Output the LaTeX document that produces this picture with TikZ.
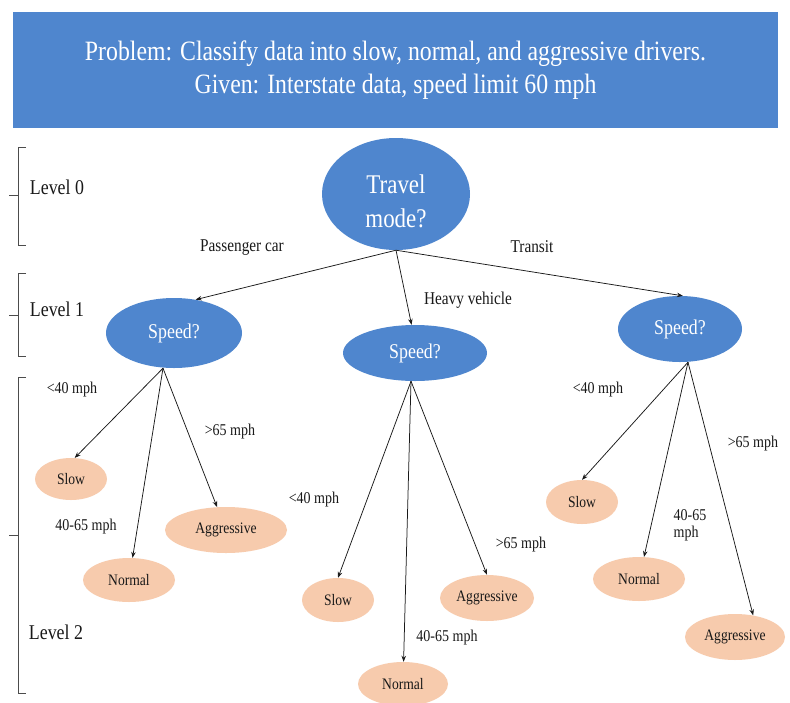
\documentclass[tikz,border=0pt]{standalone}
\usepackage{fontspec}
\setmainfont[FakeStretch=0.85]{Liberation Serif}
\usetikzlibrary{shapes.geometric,arrows.meta}
\definecolor{bannerblue}{RGB}{79,134,206}
\definecolor{nodeblue}{RGB}{79,134,206}
\definecolor{peach}{RGB}{247,203,173}
\begin{document}
\begin{tikzpicture}[x=1pt,y=-1pt,
  qnode/.style={ellipse, fill=nodeblue, text=white, inner sep=0pt},
  speedq/.style={qnode, font=\fontsize{21}{24}\selectfont},
  leaf/.style={ellipse, fill=peach, text=black!90, inner sep=0pt, font=\fontsize{16}{18}\selectfont},
  elabel/.style={font=\fontsize{16.5}{17}\selectfont, text=black!90, inner sep=0pt},
  tlabel/.style={font=\fontsize{18}{20}\selectfont, text=black!90, inner sep=0pt},
  lvl/.style={font=\fontsize{21}{24}\selectfont, text=black!90, inner sep=0pt},
  arr/.style={-{Stealth[length=6pt,width=4.5pt]}, line width=0.75pt, black!90},
  brk/.style={line width=0.6pt, black!70}]

\useasboundingbox (0,0) rectangle (790,702);
\fill[white] (0,0) rectangle (790,702);

% banner
\node[fill=bannerblue, minimum width=765pt, minimum height=116pt, inner sep=0pt,
      align=center, text=white, font=\fontsize{28}{33}\selectfont] (banner) at (395.5,70)
  {Problem: Classify data into slow, normal, and aggressive drivers.\\Given: Interstate data, speed limit 60 mph};

% level brackets
\draw[brk] (26,147) -- (18,147) -- (18,245) -- (26,245) (18,195) -- (9,195);
\draw[brk] (26,273) -- (18,273) -- (18,356) -- (26,356) (18,315) -- (9,315);
\draw[brk] (26,377) -- (18,377) -- (18,693) -- (26,693) (18,535) -- (9,535);
\node[lvl] (l0) at (57,187) {Level 0};
\node[lvl] (l1) at (57,309) {Level 1};
\node[lvl] (l2) at (56,632) {Level 2};

% decision nodes
\node[qnode, minimum width=148pt, minimum height=112pt] (top) at (396,194) {};
\node[align=center, text=white, inner sep=0pt, font=\fontsize{27}{34}\selectfont]
  (toptxt) at ([yshift=-7pt]top.center) {Travel\\mode?};
\node[speedq, minimum width=136pt, minimum height=70pt] (ls) at (174,333) {Speed?};
\node[speedq, minimum width=144pt, minimum height=56pt] (ms) at (415,353) {Speed?};
\node[speedq, minimum width=124pt, minimum height=66pt] (rs) at (680,329) {Speed?};

% leaves
\node[leaf, minimum width=72pt, minimum height=42pt] (lslow) at (71,479) {Slow};
\node[leaf, minimum width=92pt, minimum height=44pt] (lnorm) at (129,580) {Normal};
\node[leaf, minimum width=122pt, minimum height=46pt] (lagg) at (226,530) {Aggressive};
\node[leaf, minimum width=72pt, minimum height=44pt] (mslow) at (338,600) {Slow};
\node[leaf, minimum width=90pt, minimum height=44pt] (mnorm) at (403,684) {Normal};
\node[leaf, minimum width=94pt, minimum height=46pt] (magg) at (487,598) {Aggressive};
\node[leaf, minimum width=72pt, minimum height=44pt] (rslow) at (582,502) {Slow};
\node[leaf, minimum width=92pt, minimum height=44pt] (rnorm) at (639,579) {Normal};
\node[leaf, minimum width=100pt, minimum height=46pt] (ragg) at (735,637) {Aggressive};

% arrows from root
\draw[arr] (top.south) -- (ls.57);
\draw[arr] (top.south) -- (ms.97);
\draw[arr] (top.south) -- (rs.85);
% left subtree
\draw[arr] ([xshift=-11pt]ls.south) -- (lslow.80);
\draw[arr] ([xshift=-11pt]ls.south) -- (lnorm);
\draw[arr] ([xshift=-11pt]ls.south) -- (lagg);
% middle subtree
\draw[arr] ([xshift=-4pt]ms.south) -- (mslow.north);
\draw[arr] ([xshift=-4pt]ms.south) -- (mnorm);
\draw[arr] ([xshift=-4pt]ms.south) -- (magg.north);
% right subtree
\draw[arr] ([xshift=8pt]rs.south) -- (rslow.north);
\draw[arr] ([xshift=8pt]rs.south) -- (rnorm);
\draw[arr] ([xshift=8pt]rs.south) -- (ragg.50);

% edge labels
\node[tlabel] (epc) at (242,248) {Passenger car};
\node[tlabel] (ehv) at (468,300) {Heavy vehicle};
\node[tlabel] (etr) at (532,247) {Transit};
\node[elabel] (a1) at (72,390) {<40 mph};
\node[elabel] (a2) at (230,432) {>65 mph};
\node[elabel] (a3) at (86,527) {40-65 mph};
\node[elabel] (b1) at (314,500) {<40 mph};
\node[elabel] (b2) at (521,545) {>65 mph};
\node[elabel] (b3) at (447,638) {40-65 mph};
\node[elabel] (c1) at (598,390) {<40 mph};
\node[elabel] (c2) at (753,444) {>65 mph};
\node[elabel, align=left] (c3) at (690,525) {40-65\\mph};
\end{tikzpicture}
\end{document}
